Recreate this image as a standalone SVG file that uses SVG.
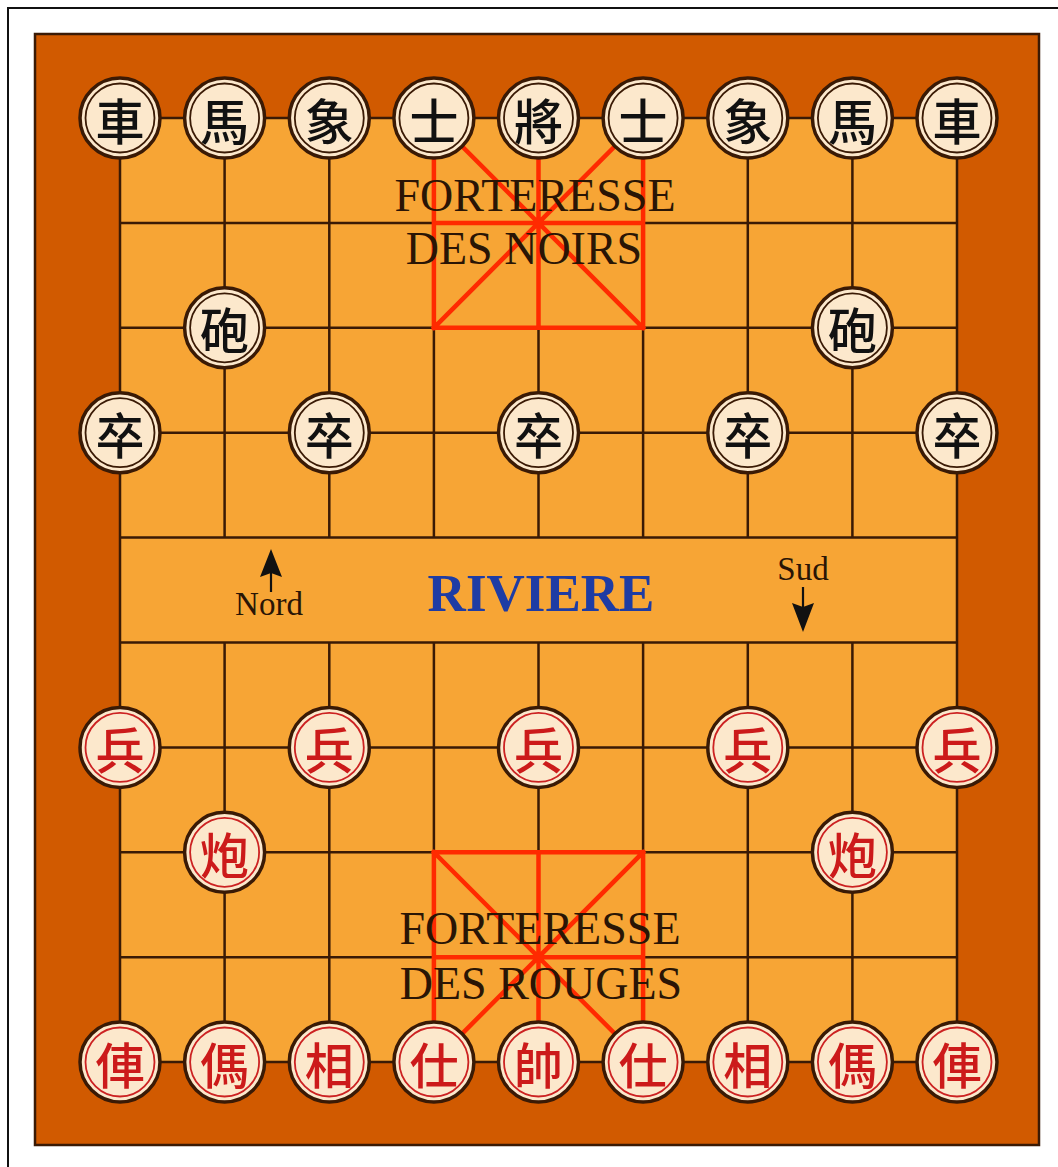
<svg xmlns="http://www.w3.org/2000/svg" width="1058" height="1167" viewBox="0 0 1058 1167">
<style>
.grid{stroke:#3a1a05;stroke-width:2.5;fill:none}
.palace{stroke:#ff2a00;stroke-width:4.5;fill:none;stroke-linecap:square}
.pc{fill:#fce8cc;stroke:#3a1a05;stroke-width:3.5}
.ringB{fill:none;stroke:#3a1a05;stroke-width:1.8}
.ringR{fill:none;stroke:#cc2222;stroke-width:1.8}
.chB{font-family:"Noto Sans CJK TC","Noto Sans CJK SC",sans-serif;font-size:49px;font-weight:500;fill:#111;text-anchor:middle;dominant-baseline:central}
.chR{font-family:"Noto Sans CJK TC","Noto Sans CJK SC",sans-serif;font-size:49px;font-weight:500;fill:#cc1a1a;text-anchor:middle;dominant-baseline:central}
.lbl{font-family:"Liberation Serif",serif;font-size:46px;fill:#2a1505;text-anchor:middle}
.small{font-family:"Liberation Serif",serif;font-size:33px;fill:#2a1505;text-anchor:middle}
</style>
<rect x="0" y="0" width="1058" height="1167" fill="#ffffff"/>
<path d="M8,1167 V8 H1058" fill="none" stroke="#111" stroke-width="2"/>
<g id="board">
<rect x="35" y="34" width="1004" height="1111" fill="#d15a00" stroke="#3a1a05" stroke-width="2.5"/>
<rect x="120" y="118" width="837" height="944" fill="#f7a535"/>
</g>
<g id="grid" class="grid">
<path d="M120,118 H957 M120,222.9 H957 M120,327.8 H957 M120,432.7 H957 M120,537.6 H957 M120,642.5 H957 M120,747.4 H957 M120,852.3 H957 M120,957.2 H957 M120,1062 H957"/>
<path d="M120,118 V1062 M957,118 V1062"/>
<path d="M224.6,118 V537.6 M329.3,118 V537.6 M433.9,118 V537.6 M538.5,118 V537.6 M643.1,118 V537.6 M747.8,118 V537.6 M852.4,118 V537.6"/>
<path d="M224.6,642.5 V1062 M329.3,642.5 V1062 M433.9,642.5 V1062 M538.5,642.5 V1062 M643.1,642.5 V1062 M747.8,642.5 V1062 M852.4,642.5 V1062"/>
</g>
<g id="palace-noirs" class="palace">
<path d="M433.9,118 V327.8 M538.5,118 V327.8 M643.1,118 V327.8 M433.9,222.9 H643.1 M433.9,327.8 H643.1 M433.9,118 L643.1,327.8 M643.1,118 L433.9,327.8"/>
</g>
<g id="palace-rouges" class="palace">
<path d="M433.9,852.3 V1062 M538.5,852.3 V1062 M643.1,852.3 V1062 M433.9,852.3 H643.1 M433.9,957.2 H643.1 M433.9,852.3 L643.1,1062 M643.1,852.3 L433.9,1062"/>
</g>
<g id="labels">
<text class="lbl" x="535" y="211">FORTERESSE</text>
<text class="lbl" x="524" y="264">DES NOIRS</text>
<text class="lbl" x="540" y="944">FORTERESSE</text>
<text class="lbl" x="541" y="999">DES ROUGES</text>
<text x="541" y="611" font-family="Liberation Serif,serif" font-weight="bold" font-size="53" fill="#1e3ca4" text-anchor="middle">RIVIERE</text>
<text class="small" x="269" y="615">Nord</text>
<text class="small" x="803" y="580">Sud</text>
</g>
<g id="connectors">
<line x1="271" y1="592" x2="271" y2="570" stroke="#111" stroke-width="2.2"/>
<polygon points="271,549 282,577 271,573 260,577" fill="#111"/>
<line x1="803" y1="587" x2="803" y2="610" stroke="#111" stroke-width="2.2"/>
<polygon points="803,632 792,603 803,607 814,603" fill="#111"/>
</g>
<g id="pieces-noirs">
<g id="n-che-1"><circle class="pc" cx="120" cy="118" r="40"/><circle class="ringB" cx="120" cy="118" r="34.5"/><text class="chB" x="120" y="118">車</text></g>
<g id="n-ma-1"><circle class="pc" cx="224.6" cy="118" r="40"/><circle class="ringB" cx="224.6" cy="118" r="34.5"/><text class="chB" x="224.6" y="118">馬</text></g>
<g id="n-xiang-1"><circle class="pc" cx="329.3" cy="118" r="40"/><circle class="ringB" cx="329.3" cy="118" r="34.5"/><text class="chB" x="329.3" y="118">象</text></g>
<g id="n-shi-1"><circle class="pc" cx="433.9" cy="118" r="40"/><circle class="ringB" cx="433.9" cy="118" r="34.5"/><text class="chB" x="433.9" y="118">士</text></g>
<g id="n-jiang"><circle class="pc" cx="538.5" cy="118" r="40"/><circle class="ringB" cx="538.5" cy="118" r="34.5"/><text class="chB" x="538.5" y="118">將</text></g>
<g id="n-shi-2"><circle class="pc" cx="643.1" cy="118" r="40"/><circle class="ringB" cx="643.1" cy="118" r="34.5"/><text class="chB" x="643.1" y="118">士</text></g>
<g id="n-xiang-2"><circle class="pc" cx="747.8" cy="118" r="40"/><circle class="ringB" cx="747.8" cy="118" r="34.5"/><text class="chB" x="747.8" y="118">象</text></g>
<g id="n-ma-2"><circle class="pc" cx="852.4" cy="118" r="40"/><circle class="ringB" cx="852.4" cy="118" r="34.5"/><text class="chB" x="852.4" y="118">馬</text></g>
<g id="n-che-2"><circle class="pc" cx="957" cy="118" r="40"/><circle class="ringB" cx="957" cy="118" r="34.5"/><text class="chB" x="957" y="118">車</text></g>
<g id="n-pao-1"><circle class="pc" cx="224.6" cy="327.8" r="40"/><circle class="ringB" cx="224.6" cy="327.8" r="34.5"/><text class="chB" x="224.6" y="327.8">砲</text></g>
<g id="n-pao-2"><circle class="pc" cx="852.4" cy="327.8" r="40"/><circle class="ringB" cx="852.4" cy="327.8" r="34.5"/><text class="chB" x="852.4" y="327.8">砲</text></g>
<g id="n-zu-1"><circle class="pc" cx="120" cy="432.7" r="40"/><circle class="ringB" cx="120" cy="432.7" r="34.5"/><text class="chB" x="120" y="432.7">卒</text></g>
<g id="n-zu-2"><circle class="pc" cx="329.3" cy="432.7" r="40"/><circle class="ringB" cx="329.3" cy="432.7" r="34.5"/><text class="chB" x="329.3" y="432.7">卒</text></g>
<g id="n-zu-3"><circle class="pc" cx="538.5" cy="432.7" r="40"/><circle class="ringB" cx="538.5" cy="432.7" r="34.5"/><text class="chB" x="538.5" y="432.7">卒</text></g>
<g id="n-zu-4"><circle class="pc" cx="747.8" cy="432.7" r="40"/><circle class="ringB" cx="747.8" cy="432.7" r="34.5"/><text class="chB" x="747.8" y="432.7">卒</text></g>
<g id="n-zu-5"><circle class="pc" cx="957" cy="432.7" r="40"/><circle class="ringB" cx="957" cy="432.7" r="34.5"/><text class="chB" x="957" y="432.7">卒</text></g>
</g>
<g id="pieces-rouges">
<g id="r-bing-1"><circle class="pc" cx="120" cy="747.4" r="40"/><circle class="ringR" cx="120" cy="747.4" r="34.5"/><text class="chR" x="120" y="747.4">兵</text></g>
<g id="r-bing-2"><circle class="pc" cx="329.3" cy="747.4" r="40"/><circle class="ringR" cx="329.3" cy="747.4" r="34.5"/><text class="chR" x="329.3" y="747.4">兵</text></g>
<g id="r-bing-3"><circle class="pc" cx="538.5" cy="747.4" r="40"/><circle class="ringR" cx="538.5" cy="747.4" r="34.5"/><text class="chR" x="538.5" y="747.4">兵</text></g>
<g id="r-bing-4"><circle class="pc" cx="747.8" cy="747.4" r="40"/><circle class="ringR" cx="747.8" cy="747.4" r="34.5"/><text class="chR" x="747.8" y="747.4">兵</text></g>
<g id="r-bing-5"><circle class="pc" cx="957" cy="747.4" r="40"/><circle class="ringR" cx="957" cy="747.4" r="34.5"/><text class="chR" x="957" y="747.4">兵</text></g>
<g id="r-pao-1"><circle class="pc" cx="224.6" cy="852.3" r="40"/><circle class="ringR" cx="224.6" cy="852.3" r="34.5"/><text class="chR" x="224.6" y="852.3">炮</text></g>
<g id="r-pao-2"><circle class="pc" cx="852.4" cy="852.3" r="40"/><circle class="ringR" cx="852.4" cy="852.3" r="34.5"/><text class="chR" x="852.4" y="852.3">炮</text></g>
<g id="r-ju-1"><circle class="pc" cx="120" cy="1062" r="40"/><circle class="ringR" cx="120" cy="1062" r="34.5"/><text class="chR" x="120" y="1062">俥</text></g>
<g id="r-ma-1"><circle class="pc" cx="224.6" cy="1062" r="40"/><circle class="ringR" cx="224.6" cy="1062" r="34.5"/><text class="chR" x="224.6" y="1062">傌</text></g>
<g id="r-xiang-1"><circle class="pc" cx="329.3" cy="1062" r="40"/><circle class="ringR" cx="329.3" cy="1062" r="34.5"/><text class="chR" x="329.3" y="1062">相</text></g>
<g id="r-shi-1"><circle class="pc" cx="433.9" cy="1062" r="40"/><circle class="ringR" cx="433.9" cy="1062" r="34.5"/><text class="chR" x="433.9" y="1062">仕</text></g>
<g id="r-shuai"><circle class="pc" cx="538.5" cy="1062" r="40"/><circle class="ringR" cx="538.5" cy="1062" r="34.5"/><text class="chR" x="538.5" y="1062">帥</text></g>
<g id="r-shi-2"><circle class="pc" cx="643.1" cy="1062" r="40"/><circle class="ringR" cx="643.1" cy="1062" r="34.5"/><text class="chR" x="643.1" y="1062">仕</text></g>
<g id="r-xiang-2"><circle class="pc" cx="747.8" cy="1062" r="40"/><circle class="ringR" cx="747.8" cy="1062" r="34.5"/><text class="chR" x="747.8" y="1062">相</text></g>
<g id="r-ma-2"><circle class="pc" cx="852.4" cy="1062" r="40"/><circle class="ringR" cx="852.4" cy="1062" r="34.5"/><text class="chR" x="852.4" y="1062">傌</text></g>
<g id="r-ju-2"><circle class="pc" cx="957" cy="1062" r="40"/><circle class="ringR" cx="957" cy="1062" r="34.5"/><text class="chR" x="957" y="1062">俥</text></g>
</g>
</svg>
